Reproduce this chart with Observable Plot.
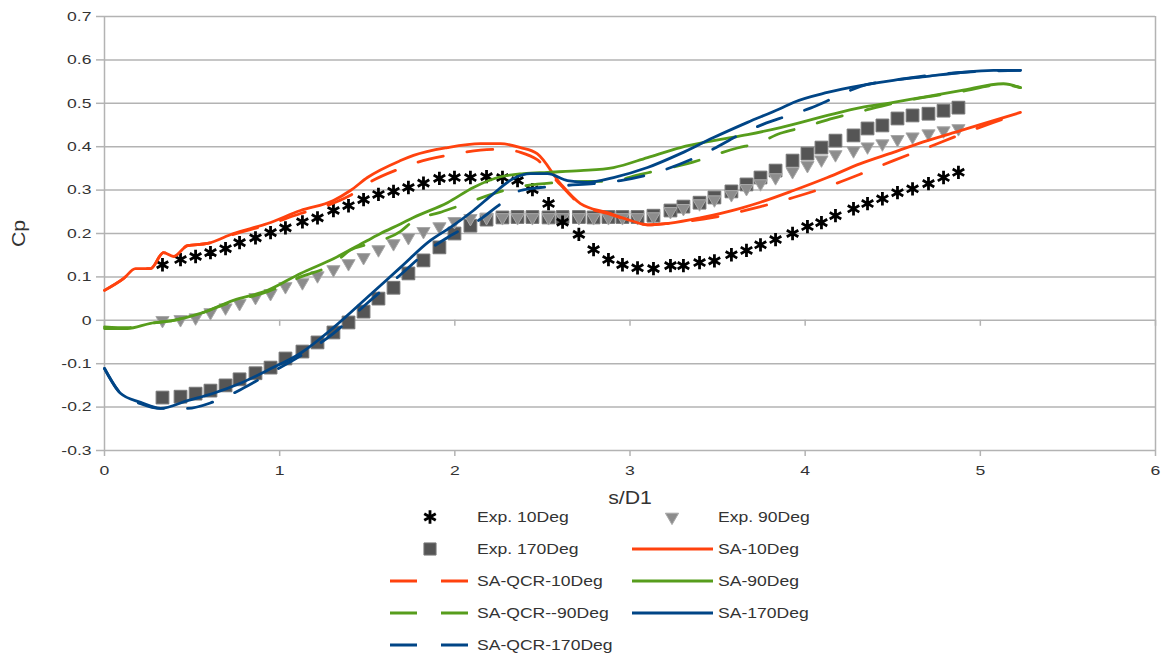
<!DOCTYPE html>
<html>
<head>
<meta charset="utf-8">
<script src="https://cdn.jsdelivr.net/npm/d3@7"></script>
<script src="https://cdn.jsdelivr.net/npm/@observablehq/plot@0.6"></script>
<style>
  body { margin: 0; background: #fff; font-family: "Liberation Sans", Arial, sans-serif; }
  #chart { width: 1165px; }
  #legend { width: 1165px; height: 152px; }
  svg { display: block; }
</style>
</head>
<body>
<div id="chart"></div>
<div id="legend"></div>
<script>
// ---------- data ----------
const xTicks = [0, 1, 2, 3, 4, 5, 6];
const yTicks = [-0.3, -0.2, -0.1, 0, 0.1, 0.2, 0.3, 0.4, 0.5, 0.6, 0.7];

// sensor positions s/D1 for the experimental series
const sPos = [0.331,0.434,0.520,0.605,0.691,0.771,0.862,0.948,1.033,1.130,
  1.216,1.307,1.393,1.479,1.564,1.650,1.735,1.821,1.912,1.998,
  2.089,2.181,2.272,2.358,2.443,2.535,2.615,2.708,2.792,2.877,
  2.957,3.043,3.134,3.231,3.305,3.397,3.482,3.579,3.665,3.745,
  3.831,3.928,4.013,4.093,4.173,4.276,4.356,4.441,4.527,4.613,
  4.704,4.790,4.875];

const exp10 = [0.128,0.140,0.147,0.156,0.165,0.179,0.190,0.202,0.213,0.227,
  0.236,0.253,0.264,0.278,0.290,0.297,0.306,0.316,0.327,0.329,
  0.329,0.331,0.329,0.322,0.301,0.269,0.226,0.198,0.163,0.140,
  0.128,0.121,0.119,0.126,0.126,0.133,0.137,0.151,0.161,0.174,
  0.186,0.200,0.216,0.225,0.241,0.257,0.269,0.280,0.294,0.303,
  0.315,0.329,0.341];

const exp90 = [0.000,0.002,0.006,0.018,0.029,0.039,0.053,0.062,0.078,0.087,
  0.103,0.117,0.131,0.145,0.163,0.177,0.191,0.205,0.216,0.228,
  0.235,0.237,0.237,0.237,0.237,0.237,0.237,0.237,0.237,0.237,
  0.237,0.237,0.239,0.251,0.258,0.269,0.278,0.290,0.304,0.315,
  0.329,0.343,0.357,0.370,0.382,0.391,0.400,0.407,0.417,0.423,
  0.430,0.437,0.442];

const exp170 = [-0.178,-0.176,-0.169,-0.162,-0.150,-0.136,-0.122,-0.109,-0.088,-0.072,
  -0.051,-0.028,-0.005,0.020,0.050,0.075,0.108,0.138,0.168,0.200,
  0.218,0.232,0.237,0.238,0.238,0.237,0.238,0.238,0.237,0.238,
  0.238,0.238,0.241,0.253,0.262,0.271,0.283,0.297,0.313,0.329,
  0.345,0.368,0.384,0.398,0.414,0.426,0.442,0.449,0.465,0.472,
  0.476,0.483,0.490];

const sa10S  = [0,0.108,0.177,0.263,0.337,0.394,0.474,0.588,0.736,0.931,1.119,1.307,1.404,1.501,1.690,1.764,1.958,2.146,2.261,2.375,2.470,2.603,2.717,2.871,3.003,3.100,3.231,3.400,3.630,3.745,3.933,4.127,4.316,4.504,4.698,4.887,5.075,5.229];
const sa10Cp = [0.069,0.096,0.119,0.119,0.156,0.147,0.172,0.177,0.200,0.223,0.253,0.276,0.299,0.329,0.368,0.380,0.398,0.407,0.407,0.398,0.384,0.315,0.269,0.248,0.230,0.220,0.224,0.236,0.258,0.272,0.299,0.329,0.361,0.387,0.414,0.437,0.460,0.479];

const qcr10S  = [0,0.108,0.177,0.263,0.337,0.394,0.474,0.588,0.736,0.931,1.119,1.307,1.404,1.501,1.690,1.764,1.958,2.146,2.261,2.375,2.470,2.603,2.717,2.871,3.003,3.100,3.231,3.477,3.745,3.933,4.127,4.316,4.504,4.698,4.887,5.075,5.229];
const qcr10Cp = [0.069,0.096,0.119,0.119,0.156,0.147,0.172,0.177,0.198,0.220,0.246,0.270,0.288,0.315,0.350,0.361,0.380,0.392,0.394,0.387,0.370,0.312,0.267,0.246,0.230,0.220,0.224,0.237,0.262,0.283,0.308,0.337,0.368,0.398,0.428,0.456,0.477];

const sa90S  = [0,0.131,0.263,0.394,0.548,0.736,0.931,1.119,1.307,1.501,1.576,1.690,1.764,1.958,2.106,2.244,2.392,2.529,2.717,2.906,3.100,3.288,3.477,3.671,3.859,4.127,4.316,4.504,4.658,4.887,5.132,5.229];
const sa90Cp = [-0.019,-0.019,-0.007,0.000,0.016,0.046,0.069,0.108,0.142,0.184,0.200,0.222,0.237,0.271,0.306,0.329,0.338,0.341,0.345,0.352,0.375,0.398,0.414,0.428,0.444,0.472,0.490,0.502,0.513,0.529,0.545,0.536];

const qcr90S  = [0,0.131,0.263,0.394,0.548,0.736,0.931,1.119,1.307,1.404,1.501,1.690,1.764,1.912,1.998,2.209,2.306,2.563,2.757,2.877,3.060,3.134,3.328,3.613,3.728,3.859,3.991,4.162,4.276,4.504,4.887,5.132,5.229];
const qcr90Cp = [-0.015,-0.017,-0.007,0.000,0.016,0.044,0.066,0.100,0.130,0.162,0.175,0.205,0.229,0.248,0.260,0.290,0.302,0.317,0.320,0.320,0.336,0.343,0.361,0.397,0.408,0.431,0.445,0.466,0.477,0.500,0.527,0.543,0.536];

const sa170S  = [0,0.091,0.206,0.320,0.474,0.622,0.776,0.931,1.119,1.307,1.501,1.690,1.861,1.975,2.106,2.221,2.335,2.432,2.529,2.643,2.757,2.906,3.100,3.288,3.477,3.671,3.859,3.933,4.127,4.316,4.504,4.698,4.887,5.075,5.229];
const sa170Cp = [-0.111,-0.168,-0.189,-0.203,-0.185,-0.168,-0.145,-0.115,-0.076,-0.017,0.053,0.122,0.184,0.214,0.253,0.292,0.327,0.338,0.338,0.322,0.318,0.329,0.352,0.384,0.421,0.456,0.488,0.502,0.525,0.541,0.553,0.562,0.571,0.576,0.576];

const qcr170S  = [0,0.091,0.206,0.320,0.474,0.622,0.776,0.931,1.119,1.307,1.501,1.690,1.861,1.975,2.146,2.244,2.375,2.489,2.643,2.792,2.946,3.100,3.477,3.613,3.762,3.899,4.030,4.162,4.316,4.504,4.887,5.229];
const qcr170Cp = [-0.111,-0.168,-0.192,-0.203,-0.203,-0.188,-0.160,-0.125,-0.082,-0.030,0.040,0.105,0.165,0.195,0.233,0.263,0.299,0.306,0.311,0.315,0.322,0.335,0.395,0.425,0.452,0.471,0.489,0.512,0.539,0.553,0.571,0.576];

const seriesNames = ["Exp. 10Deg","Exp. 90Deg","Exp. 170Deg","SA-10Deg","SA-QCR-10Deg","SA-90Deg","SA-QCR--90Deg","SA-170Deg","SA-QCR-170Deg"];

// ---------- style ----------
const RED = "#ff420e", GREEN = "#579d1c", BLUE = "#004586";
const GRID = "#b3b3b3", TEXT = "#333333";
const DASH = "26,24";
const LW = 2.8;
const R_STAR = 6.3, R_SQ = 7.2, R_TRI = 4.9, STAR_W = 2.8;

const pts = (S, C) => S.map((s, i) => ({s, cp: C[i]}));
const expPts = (C) => sPos.map((s, i) => ({s, cp: C[i]}));

const lineSpecs = [
  {data: pts(sa10S, sa10Cp),   stroke: RED,   dash: null},
  {data: pts(qcr10S, qcr10Cp), stroke: RED,   dash: DASH},
  {data: pts(sa90S, sa90Cp),   stroke: GREEN, dash: null},
  {data: pts(qcr90S, qcr90Cp), stroke: GREEN, dash: DASH},
  {data: pts(sa170S, sa170Cp), stroke: BLUE,  dash: null},
  {data: pts(qcr170S, qcr170Cp), stroke: BLUE, dash: DASH}
];

const fmt = d => (Math.abs(d) < 1e-9 ? "0" : d.toFixed(1));

const chart = Plot.plot({
  width: 1165,
  height: 506,
  marginLeft: 104,
  marginRight: 10,
  marginTop: 16,
  marginBottom: 56,
  style: {fontFamily: "'Liberation Sans', Arial, sans-serif", fontSize: "13.5px", background: "#fff", color: TEXT},
  x: {domain: [xTicks[0], xTicks[xTicks.length - 1]]},
  y: {domain: [yTicks[0], yTicks[yTicks.length - 1]]},
  marks: [
    Plot.gridY(yTicks, {stroke: GRID, strokeOpacity: 1, strokeWidth: 1.5}),
    Plot.ruleX([xTicks[0], xTicks[xTicks.length - 1]], {stroke: GRID, strokeWidth: 1.5}),
    Plot.ruleX(xTicks, {x: d => d, y1: 0, y2: 0, insetBottom: -6, stroke: GRID, strokeWidth: 1.5}),
    Plot.axisY(yTicks, {tickSize: 8, tickPadding: 5, stroke: GRID, strokeWidth: 1.5, fill: TEXT,
      tickFormat: fmt, label: "Cp", labelAnchor: "center", labelArrow: "none", labelOffset: 92}),
    Plot.axisX(xTicks, {tickSize: 6, tickPadding: 9, stroke: GRID, strokeWidth: 1.5, fill: TEXT,
      tickFormat: d => String(d), label: "s/D1", labelAnchor: "center", labelArrow: "none", labelOffset: 53}),
    Plot.dot(expPts(exp170), {x: "s", y: "cp", symbol: "square", r: R_SQ, fill: "#555555", stroke: "#787878", strokeWidth: 1}),
    Plot.dot(expPts(exp90), {x: "s", y: "cp", symbol: "triangle", rotate: 180, r: R_TRI, fill: "#8c8c8c", stroke: "#a8a8a8", strokeWidth: 1}),
    Plot.dot(expPts(exp10), {x: "s", y: "cp", symbol: "asterisk", r: R_STAR, stroke: "#000", strokeWidth: STAR_W}),
    ...lineSpecs.map(L => Plot.line(L.data, {x: "s", y: "cp", stroke: L.stroke, strokeWidth: LW,
      strokeDasharray: L.dash || undefined, curve: "monotone-x"}))
  ]
});

document.getElementById("chart").append(chart);

function stretch(nodes, k) {
  nodes.forEach(t => {
    const w = t.getComputedTextLength();
    if (w > 0) {
      t.setAttribute("textLength", (w * k).toFixed(1));
      t.setAttribute("lengthAdjust", "spacingAndGlyphs");
    }
  });
}
chart.querySelectorAll('g[aria-label="y-axis label"] text, g[aria-label="x-axis label"] text')
  .forEach(t => t.setAttribute("font-size", "18px"));
stretch(chart.querySelectorAll('g[aria-label="y-axis tick label"] text, g[aria-label="x-axis tick label"] text'), 1.3);
stretch(chart.querySelectorAll('g[aria-label="y-axis label"] text, g[aria-label="x-axis label"] text'), 1.18);

// ---------- legend ----------
const legendSvg = d3.select("#legend").append("svg").attr("width", 1165).attr("height", 152)
  .style("font-family", "'Liberation Sans', Arial, sans-serif");
const col = [
  {cx: 430, x1: 390, x2: 468, tx: 477},
  {cx: 672, x1: 632, x2: 713, tx: 718}
];
const rowY = r => 11 + 32 * r;
const legendSpec = [
  {kind: "star"}, {kind: "tri"}, {kind: "sq"},
  {kind: "line", stroke: RED}, {kind: "dash", stroke: RED},
  {kind: "line", stroke: GREEN}, {kind: "dash", stroke: GREEN},
  {kind: "line", stroke: BLUE}, {kind: "dash", stroke: BLUE}
];
legendSpec.forEach((spec, i) => {
  const c = col[i % 2], y = rowY(Math.floor(i / 2));
  const g = legendSvg.append("g");
  if (spec.kind === "star") {
    g.append("path").attr("d", d3.symbol(d3.symbolAsterisk, Math.PI * R_STAR * R_STAR)())
      .attr("transform", `translate(${c.cx},${y})`).attr("fill", "none").attr("stroke", "#000").attr("stroke-width", STAR_W);
  } else if (spec.kind === "tri") {
    g.append("path").attr("d", d3.symbol(d3.symbolTriangle, Math.PI * R_TRI * R_TRI)())
      .attr("transform", `translate(${c.cx},${y}) rotate(180)`).attr("fill", "#8c8c8c").attr("stroke", "#a8a8a8");
  } else if (spec.kind === "sq") {
    g.append("path").attr("d", d3.symbol(d3.symbolSquare, Math.PI * R_SQ * R_SQ * 0.9)())
      .attr("transform", `translate(${c.cx},${y})`).attr("fill", "#555555").attr("stroke", "#787878");
  } else {
    g.append("line").attr("x1", c.x1).attr("x2", c.x2).attr("y1", y).attr("y2", y)
      .attr("stroke", spec.stroke).attr("stroke-width", LW)
      .attr("stroke-dasharray", spec.kind === "dash" ? "27,24" : null);
  }
  g.append("text").attr("x", c.tx).attr("y", y).attr("dy", "0.36em")
    .attr("font-size", "15px").attr("fill", TEXT).text(seriesNames[i]);
});
stretch(legendSvg.selectAll("text").nodes(), 1.17);
</script>
</body>
</html>
